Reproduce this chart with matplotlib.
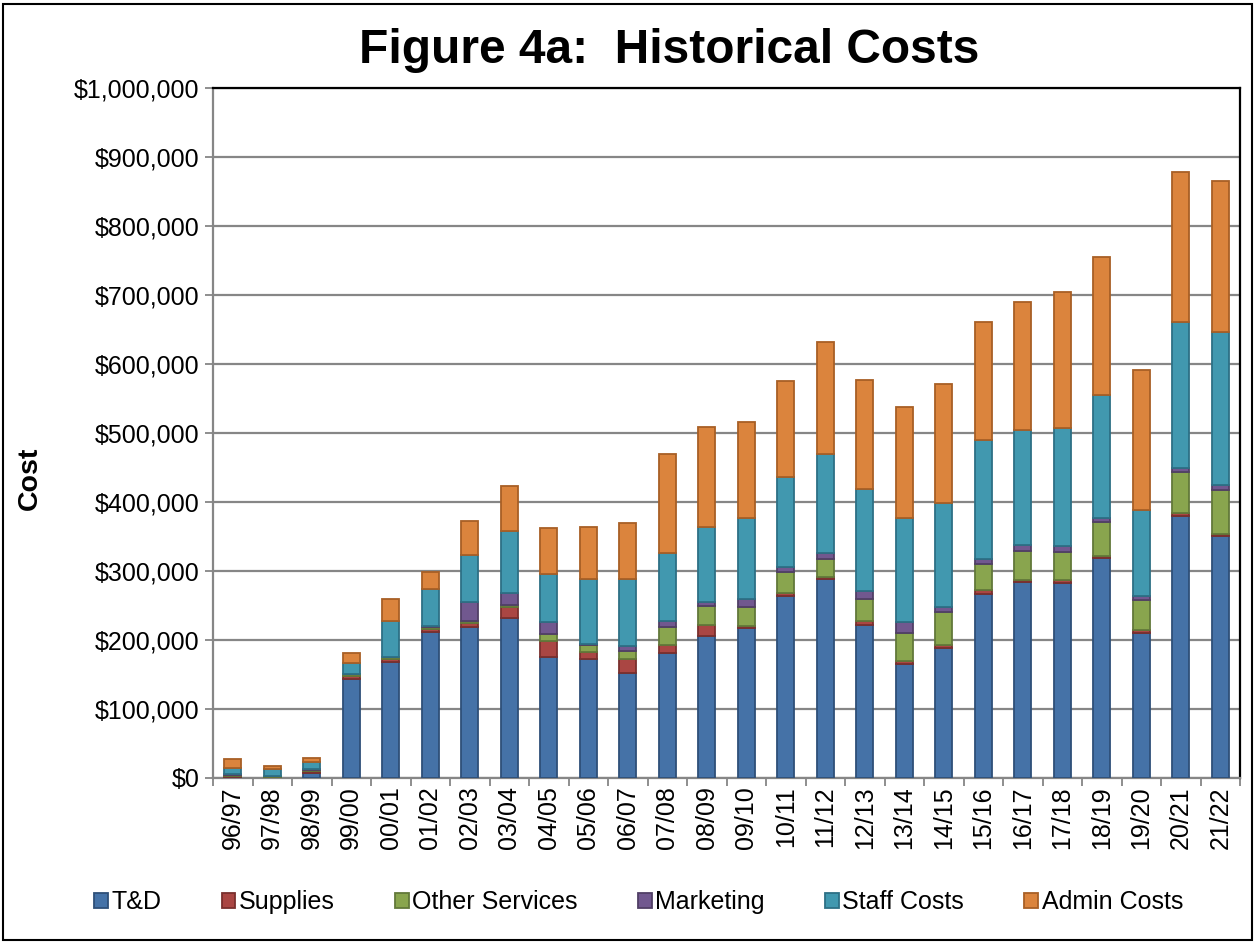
import matplotlib
matplotlib.use("Agg")
import matplotlib.pyplot as plt
import numpy as np
from matplotlib.patches import Rectangle
from matplotlib.ticker import FuncFormatter, MultipleLocator, FixedLocator

plt.rcParams['font.family'] = ['Liberation Sans', 'DejaVu Sans']

years = ["96/97", "97/98", "98/99", "99/00", "00/01", "01/02", "02/03", "03/04", "04/05",
         "05/06", "06/07", "07/08", "08/09", "09/10", "10/11", "11/12", "12/13", "13/14",
         "14/15", "15/16", "16/17", "17/18", "18/19", "19/20", "20/21", "21/22"]

td = [2000, 1000, 7500, 143500, 167500, 211000, 218500, 232300, 175000,
      173000, 151500, 180500, 206000, 218000, 263500, 288500, 221500, 165500,
      188500, 267000, 284000, 282000, 319500, 210500, 379500, 351000]
supplies = [1500, 500, 2000, 4000, 4500, 4500, 6000, 15000, 23500,
            9000, 21000, 11500, 16000, 2500, 4500, 3000, 6000, 3500,
            3500, 6000, 3500, 4500, 2500, 4500, 4500, 2000]
other = [1000, 1500, 1500, 2500, 3000, 4000, 3500, 3500, 10000,
         10500, 11000, 27000, 27500, 28000, 31000, 26500, 32500, 41500,
         49000, 37000, 41500, 41500, 48500, 43000, 59500, 65000]
marketing = [1500, 500, 1500, 500, 500, 1000, 26500, 17000, 17500,
             2000, 7500, 8000, 6000, 11500, 6500, 8500, 10500, 15500,
             7500, 7500, 8000, 7500, 7000, 6000, 5500, 7000]
staff = [8000, 9000, 10000, 16000, 52000, 54000, 68000, 90000, 70000,
         94000, 97000, 98500, 108500, 116500, 130500, 142500, 149000, 151000,
         149500, 172500, 167500, 171000, 178000, 124500, 211500, 221000]
admin = [13000, 5000, 7000, 14500, 32000, 24500, 49500, 66000, 67000,
         75500, 82000, 144000, 145000, 140000, 139000, 163000, 158000, 160000,
         173000, 170500, 185000, 197500, 199000, 202500, 218000, 219000]

series_names = ["T&D", "Supplies", "Other Services", "Marketing", "Staff Costs", "Admin Costs"]
series = [td, supplies, other, marketing, staff, admin]
faces = ["#4572A7", "#AA4643", "#89A54E", "#71588F", "#4198AF", "#DB843D"]
edges = ["#2E4F78", "#7A2F2D", "#62783A", "#503F66", "#2D7085", "#A85F25"]

fig = plt.figure(figsize=(12.57, 9.43), dpi=100)
fig.patches.append(Rectangle((0.002, 0.003), 0.994, 0.993, transform=fig.transFigure,
                             fill=False, edgecolor="black", linewidth=1.5))

ax = fig.add_axes([0.1695, 0.175, 0.817, 0.7317])
x = np.arange(len(years))
bottom = np.zeros(len(years))
for name, vals, fc, ec in zip(series_names, series, faces, edges):
    v = np.array(vals, dtype=float)
    ax.bar(x, v, bottom=bottom, width=0.43, color=fc, edgecolor=ec, linewidth=1.3,
           label=name, zorder=3)
    bottom += v

ax.set_xlim(-0.5, len(years) - 0.5)
ax.set_ylim(0, 1000000)
ax.yaxis.set_major_locator(MultipleLocator(100000))
ax.yaxis.set_major_formatter(FuncFormatter(lambda v, p: "${:,.0f}".format(v)))
ax.grid(axis='y', color="#868686", linewidth=1.6, zorder=0)
ax.set_axisbelow(True)

ax.set_xticks(x)
ax.set_xticklabels(years, rotation=90, fontsize=18)
ax.tick_params(axis='x', which='major', length=0, pad=6)
ax.xaxis.set_minor_locator(FixedLocator(np.arange(-0.5, len(years), 1.0)))
ax.tick_params(axis='x', which='minor', length=6, width=1.3, color="#868686", direction='out')
ax.tick_params(axis='y', labelsize=18, length=6, width=1.3, color="#868686", pad=4)

for s in ['left', 'bottom']:
    ax.spines[s].set_color("#868686")
    ax.spines[s].set_linewidth(1.6)
for s in ['top', 'right']:
    ax.spines[s].set_color("black")
    ax.spines[s].set_linewidth(1.6)

fig.text(0.0235, 0.493, "Cost", rotation=90, ha='center', va='center',
         fontsize=20.5, fontweight='bold')

fig.text(0.532, 0.946, "Figure 4a:  Historical Costs", ha='center', va='center',
         fontsize=34.5, fontweight='bold')

handles, labels = ax.get_legend_handles_labels()
fig.legend(handles, labels, loc='center', bbox_to_anchor=(0.508, 0.043), ncol=6,
           frameon=False, fontsize=18, handlelength=0.55, handleheight=0.55,
           handletextpad=0.15, columnspacing=2.4)

fig.savefig("out.png", dpi=100)
